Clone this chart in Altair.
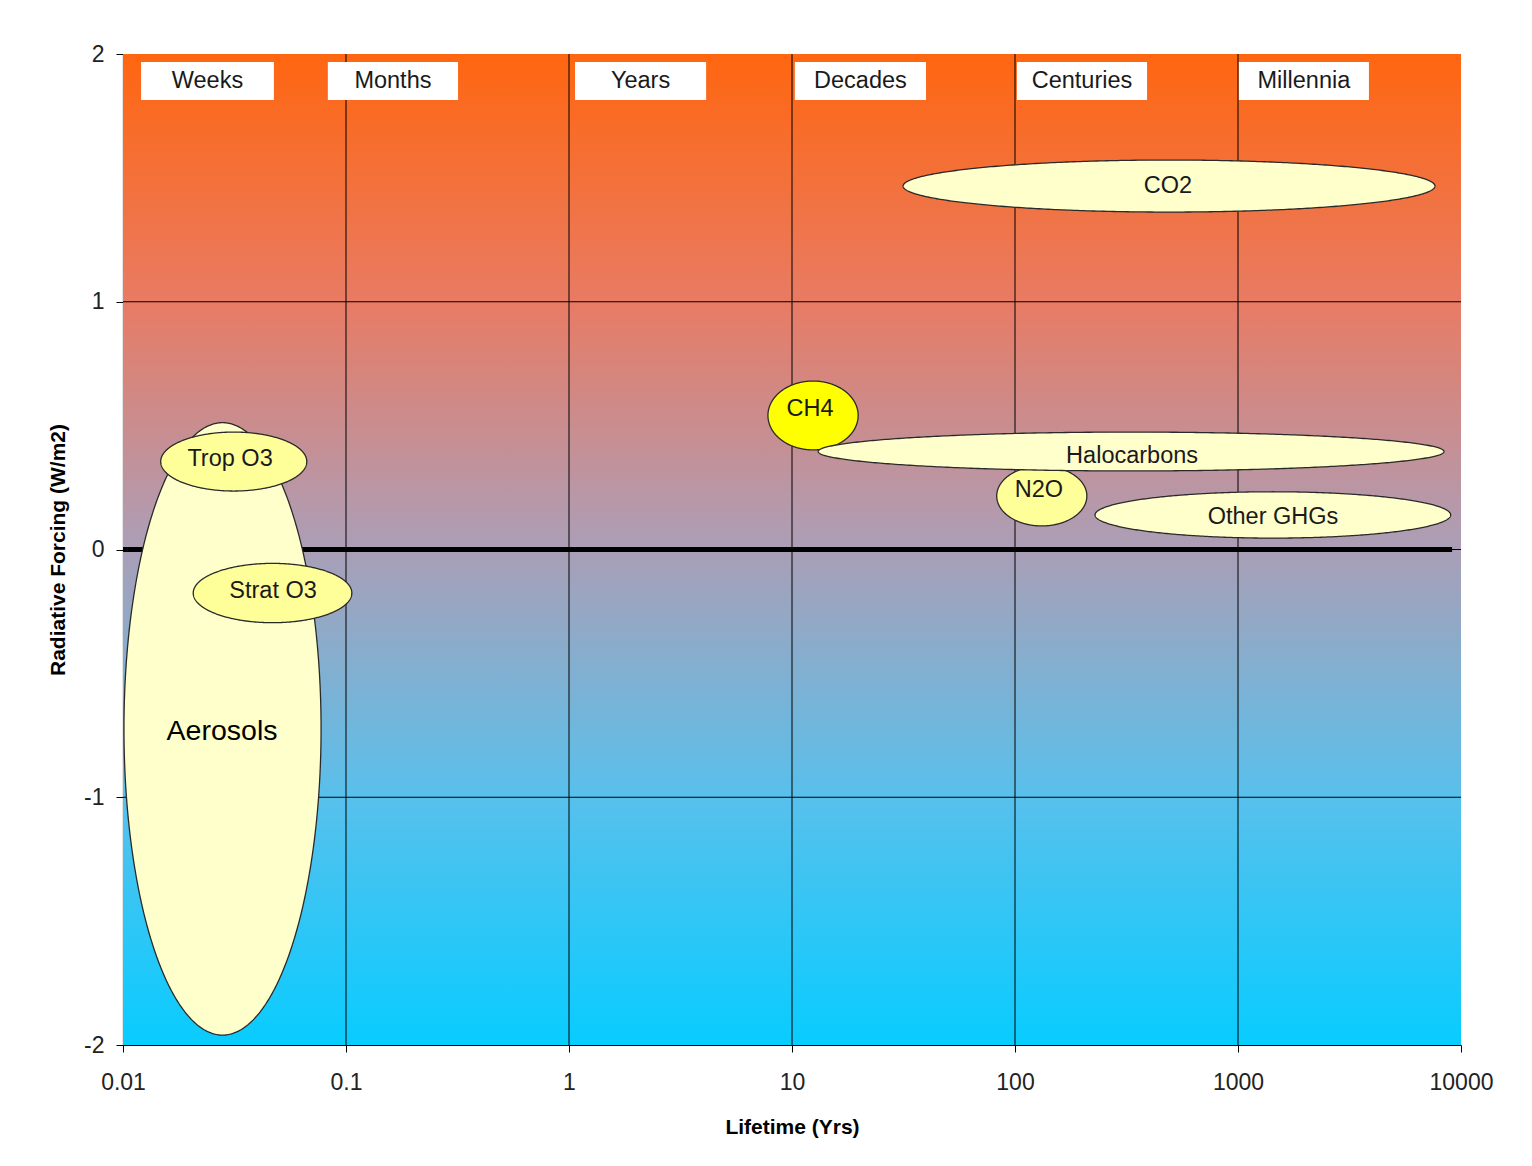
import altair as alt
import pandas as pd
import numpy as np

# ---- data ----
names = ["Aerosols", "Trop O3", "Strat O3", "CO2", "CH4", "N2O", "Halocarbons", "Other GHGs"]
life_lo = [0.0101, 0.01476, 0.02065, 31.5, 7.80, 82.8, 13.1, 228.5]      # years, left end
life_hi = [0.0773, 0.0667, 0.1062, 7640, 19.8, 210, 8390, 8990]          # years, right end
rf_lo = [-1.960, 0.236, -0.2955, 1.362, 0.402, 0.095, 0.317, 0.046]     # W/m2, bottom
rf_hi = [0.512, 0.474, -0.056, 1.572, 0.680, 0.337, 0.474, 0.233]       # W/m2, top
label_life = [0.0278, 0.0302, 0.0471, 485, 12.05, 128, 335, 1435]
label_rf = [-0.733, 0.365, -0.167, 1.467, 0.567, 0.240, 0.377, 0.131]

periods = ["Weeks", "Months", "Years", "Decades", "Centuries", "Millennia"]
period_lo = [0.01205, 0.0829, 1.064, 10.3, 102, 1009]
period_hi = [0.0475, 0.318, 4.12, 39.9, 391, 3865]
period_top = [1.968] * 6
period_bot = [1.814] * 6

x_ticks = [0.01, 0.1, 1, 10, 100, 1000, 10000]
y_ticks = [-2, -1, 0, 1, 2]
x_grid = [0.1, 1, 10, 100, 1000]
y_grid = [-1, 0, 1]
zero_line_end = 9120

# ---- styles ----
fill_colors = {"Aerosols": "#FFFFCC", "Trop O3": "#FFFF99", "Strat O3": "#FFFF99",
               "CO2": "#FFFFCC", "CH4": "#FFFF00", "N2O": "#FFFF99",
               "Halocarbons": "#FFFFCC", "Other GHGs": "#FFFFCC"}
FONT = "Liberation Sans"

xs = alt.Scale(type="log", domain=[0.01, 10000], nice=False)
ys = alt.Scale(domain=[-2, 2], nice=False)
xaxis = alt.Axis(values=x_ticks, format="~g", labelFlush=False, labelOverlap=False,
                 grid=False, tickSize=7, labelPadding=19, titlePadding=22)
yaxis = alt.Axis(values=y_ticks, labelExpr="'' + datum.value", grid=False, tickSize=7,
                 labelPadding=12, titlePadding=15)


def X(f):
    return alt.X(f, type="quantitative", scale=xs, axis=xaxis, title="Lifetime (Yrs)")


def Y(f):
    return alt.Y(f, type="quantitative", scale=ys, axis=yaxis, title="Radiative Forcing (W/m2)")


# background gradient
bg = pd.DataFrame({"x0": [x_ticks[0]], "x1": [x_ticks[-1]], "y0": [y_ticks[-1]], "y1": [y_ticks[0]]})
grad = alt.LinearGradient(
    gradient="linear", x1=0, x2=0, y1=0, y2=1,
    stops=[alt.GradientStop(color="#FF6610", offset=0),
           alt.GradientStop(color="#E87B64", offset=0.25),
           alt.GradientStop(color="#B09CB2", offset=0.48),
           alt.GradientStop(color="#58C0EC", offset=0.75),
           alt.GradientStop(color="#08CCFF", offset=1)])
bg_layer = alt.Chart(bg).mark_rect(fill=grad).encode(x=X("x0"), x2="x1", y=Y("y0"), y2="y1")

vgrid = alt.Chart(pd.DataFrame({"v": x_grid})).mark_rule(color="black", strokeWidth=1).encode(x=X("v"))
hgrid = alt.Chart(pd.DataFrame({"v": y_grid})).mark_rule(color="black", strokeWidth=1).encode(y=Y("v"))

zero = alt.Chart(pd.DataFrame({"a": [x_ticks[0]], "b": [zero_line_end], "y": [0]})).mark_rule(
    color="black", strokeWidth=5).encode(x=X("a"), x2="b", y=Y("y"))

pdf = pd.DataFrame({"name": periods, "x0": period_lo, "x1": period_hi,
                    "y0": period_top, "y1": period_bot})
pdf["xc"] = np.sqrt(pdf["x0"] * pdf["x1"])
pdf["yc"] = (pdf["y0"] + pdf["y1"]) / 2
boxes = alt.Chart(pdf).mark_rect(fill="white").encode(x=X("x0"), x2="x1", y=Y("y0"), y2="y1")
box_text = alt.Chart(pdf).mark_text(font=FONT, fontSize=23.5, color="#1a1a1a").encode(
    x=X("xc"), y=Y("yc"), text="name:N")

# ellipse outlines (in the log-x / linear-y plane) from their extents
rows = []
for i, n in enumerate(names):
    l0, l1 = np.log10(life_lo[i]), np.log10(life_hi[i])
    cx, a = (l0 + l1) / 2, (l1 - l0) / 2
    cy, b = (rf_lo[i] + rf_hi[i]) / 2, (rf_hi[i] - rf_lo[i]) / 2
    for t in np.linspace(np.pi, 0, 241):
        rows.append({"name": n, "x": 10 ** (cx + a * np.cos(t)),
                     "top": cy + b * np.sin(t), "bot": cy - b * np.sin(t)})
edf = pd.DataFrame(rows)

layers = [bg_layer, vgrid, hgrid, zero, boxes, box_text]
for n in names:
    layers.append(
        alt.Chart(edf).transform_filter(alt.datum.name == n).mark_area(
            fill=fill_colors[n], stroke="#2a2a2a", strokeWidth=1.3, opacity=1, fillOpacity=1
        ).encode(x=X("x"), y=Y("top"), y2="bot")
    )

ldf = pd.DataFrame({"name": names, "x": label_life, "y": label_rf})
labels = alt.Chart(ldf).transform_filter(alt.datum.name != "Aerosols").mark_text(
    font=FONT, fontSize=23.5, color="#1a1a1a").encode(x=X("x"), y=Y("y"), text="name:N")
aer_label = alt.Chart(ldf).transform_filter(alt.datum.name == "Aerosols").mark_text(
    font=FONT, fontSize=28.5, color="black").encode(x=X("x"), y=Y("y"), text="name:N")
layers += [labels, aer_label]

chart = alt.layer(*layers).properties(
    width=1338, height=991,
    autosize=alt.AutoSizeParams(type="none"),
    padding={"left": 115, "top": 46, "right": 60, "bottom": 110},
    background="white",
).configure_view(stroke=None).configure_axis(
    labelFont=FONT, labelFontSize=23, labelColor="#222222",
    titleFont=FONT, titleFontSize=21, titleFontWeight="bold", titleColor="black",
    domainColor="black", tickColor="black", domainWidth=1.2,
)

chart.save("out.html", embed_options={"renderer": "svg", "actions": False})
